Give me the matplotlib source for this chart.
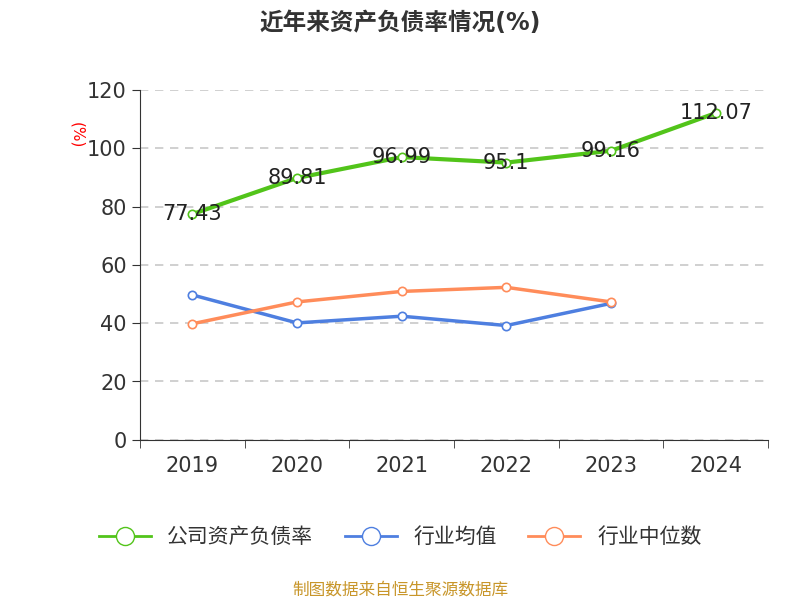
import matplotlib
matplotlib.use("Agg")
import matplotlib.pyplot as plt
from matplotlib import font_manager as fm
import numpy as np

cjk_names = []
for f in fm.findSystemFonts():
    if 'CJK' in f or 'cjk' in f.lower():
        try:
            fm.fontManager.addfont(f)
            cjk_names.append(fm.FontProperties(fname=f).get_name())
        except Exception:
            pass
pref = ["Noto Sans CJK SC", "Noto Sans CJK JP", "Noto Sans CJK TC", "Noto Sans CJK KR"]
names = [n for n in pref if n in cjk_names] + [n for n in cjk_names if n not in pref]
plt.rcParams['font.family'] = ['DejaVu Sans'] + (names if names else pref)

years = ["2019", "2020", "2021", "2022", "2023", "2024"]
company = [77.43, 89.81, 96.99, 95.1, 99.16, 112.07]
company_labels = ["77.43", "89.81", "96.99", "95.1", "99.16", "112.07"]
industry_avg = [49.7, 40.1, 42.4, 39.2, 46.8]
industry_median = [39.8, 47.3, 50.9, 52.3, 47.3]

fig = plt.figure(figsize=(8, 6), dpi=100)
ax = fig.add_axes([0.175, 0.267, 0.785, 0.583])
x = np.arange(len(years))

c_green, c_blue, c_orange = "#52c41a", "#4e7fe0", "#ff8c5a"
ax.plot(x, company, color=c_green, lw=3, marker='o', ms=6, mfc='white', mec=c_green, mew=1.2, zorder=3)
ax.plot(x[:5], industry_avg, color=c_blue, lw=2.5, marker='o', ms=6, mfc='white', mec=c_blue, mew=1.2, zorder=3)
ax.plot(x[:5], industry_median, color=c_orange, lw=2.5, marker='o', ms=6, mfc='white', mec=c_orange, mew=1.2, zorder=3)
for xi, v, s in zip(x, company, company_labels):
    ax.text(xi, v, s, ha='center', va='center', fontsize=15, color='#222222', zorder=4)

ax.set_xlim(-0.5, 5.5)
ax.set_ylim(0, 120)
ax.set_yticks(range(0, 121, 20))
ax.set_xticks(x)
ax.set_xticklabels(years)
ax.set_xticks(np.arange(-0.5, 5.6, 1), minor=True)
ax.tick_params(axis='x', which='major', length=0, labelsize=15, colors='#333333', pad=12)
ax.tick_params(axis='x', which='minor', length=6, color='#333333')
ax.tick_params(axis='y', labelsize=15, colors='#333333', length=6)
ax.grid(axis='y', ls=(0, (5, 4)), color='#c8c8c8', lw=1.2)
for s in ['top', 'right']:
    ax.spines[s].set_visible(False)
ax.spines['left'].set_color('#333333')
ax.spines['bottom'].set_color('#333333')
ax.text(-0.1, 0.87, "(%)", transform=ax.transAxes, rotation=-90, color='red', fontsize=11, ha='center', va='center')

fig.text(0.5, 0.962, "近年来资产负债率情况(%)", ha='center', va='center', fontsize=17, fontweight='bold', color='#333333')
from matplotlib.lines import Line2D
handles = [Line2D([], [], color=c, lw=2, marker='o', ms=13, mfc='white', mec=c) for c in (c_green, c_blue, c_orange)]
fig.legend(handles, ["公司资产负债率", "行业均值", "行业中位数"], loc='center', bbox_to_anchor=(0.5, 0.105),
           ncol=3, frameon=False, fontsize=15, handlelength=2.5, columnspacing=1.5, labelcolor='#333333')
fig.text(0.5, 0.018, "制图数据来自恒生聚源数据库", ha='center', va='center', fontsize=12, color='#c8962a')
fig.savefig("out.png")
